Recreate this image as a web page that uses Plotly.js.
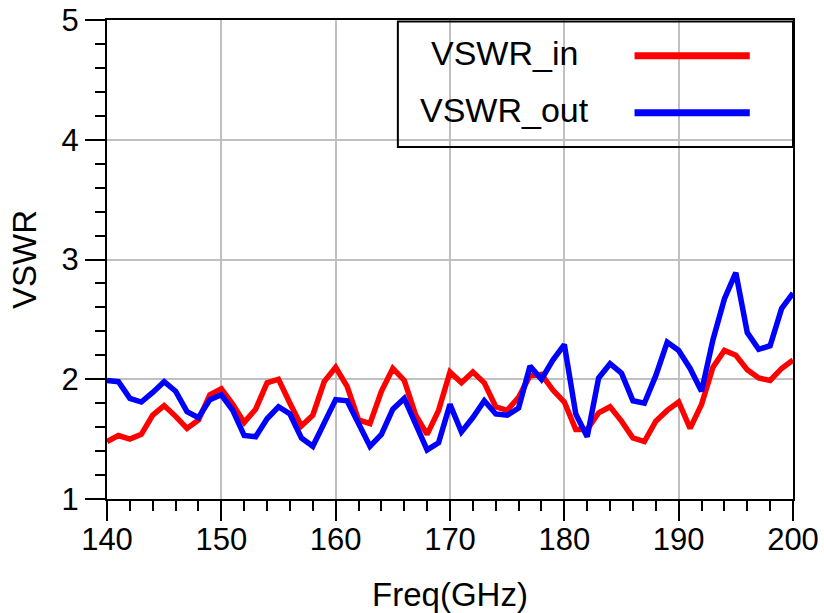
<!DOCTYPE html>
<html>
<head>
<meta charset="utf-8">
<script src="https://cdn.plot.ly/plotly-3.0.1.min.js"></script>
<style>html,body{margin:0;padding:0;background:#fff;}#chart{width:824px;height:613px;}</style>
</head>
<body>
<div id="chart"></div>
<script>
const freq = [140,141,142,143,144,145,146,147,148,149,150,151,152,153,154,155,156,157,158,159,160,161,162,163,164,165,166,167,168,169,170,171,172,173,174,175,176,177,178,179,180,181,182,183,184,185,186,187,188,189,190,191,192,193,194,195,196,197,198,199,200];
const vswrIn = [1.48,1.53,1.50,1.54,1.70,1.78,1.69,1.59,1.66,1.87,1.92,1.79,1.64,1.75,1.97,2.00,1.80,1.61,1.70,1.98,2.10,1.94,1.66,1.63,1.90,2.09,1.99,1.70,1.54,1.74,2.06,1.97,2.06,1.97,1.77,1.74,1.85,2.03,2.04,1.91,1.81,1.58,1.58,1.72,1.77,1.65,1.51,1.48,1.65,1.74,1.81,1.59,1.79,2.10,2.24,2.20,2.08,2.01,1.99,2.09,2.16];
const vswrOut = [1.99,1.98,1.84,1.81,1.89,1.98,1.90,1.73,1.68,1.83,1.87,1.74,1.53,1.52,1.67,1.77,1.71,1.51,1.44,1.63,1.83,1.82,1.63,1.44,1.54,1.75,1.84,1.63,1.41,1.47,1.79,1.56,1.68,1.82,1.71,1.70,1.76,2.11,2.00,2.16,2.29,1.71,1.52,2.01,2.13,2.05,1.82,1.80,2.03,2.31,2.24,2.09,1.90,2.33,2.67,2.89,2.39,2.25,2.28,2.59,2.72];
const seriesNames = ['VSWR_in','VSWR_out'];
const seriesColors = ['#ff0000','#0000ff'];

const font = 'Liberation Sans, Arial, sans-serif';
const traces = [
  {x: freq, y: vswrIn, name: seriesNames[0], type: 'scatter', mode: 'lines', line: {color: seriesColors[0], width: 5.5}},
  {x: freq, y: vswrOut, name: seriesNames[1], type: 'scatter', mode: 'lines', line: {color: seriesColors[1], width: 5.5}}
];
const axisCommon = {
  ticks: 'outside', ticklen: 20, tickwidth: 2, tickcolor: '#000',
  showgrid: true, gridcolor: '#c0c0c0', gridwidth: 2,
  showline: true, linecolor: '#000', linewidth: 2, mirror: true,
  zeroline: false,
  tickfont: {family: font, size: 31, color: '#000'}
};
const layout = {
  width: 824, height: 613,
  margin: {l: 107, r: 31, t: 20, b: 114},
  paper_bgcolor: '#fff', plot_bgcolor: '#fff',
  showlegend: false,
  font: {family: font, size: 31, color: '#000'},
  xaxis: Object.assign({}, axisCommon, {
    range: [140, 200], dtick: 10, tick0: 140,
    minor: {dtick: 2, ticks: 'outside', ticklen: 10, tickwidth: 2, tickcolor: '#000', showgrid: false},
    ticklabelstandoff: -8,
    title: {text: 'Freq(GHz)', font: {family: font, size: 33, color: '#000'}, standoff: 27}
  }),
  yaxis: Object.assign({}, axisCommon, {
    range: [1, 5], dtick: 1, tick0: 1,
    minor: {dtick: 0.2, ticks: 'outside', ticklen: 10, tickwidth: 2, tickcolor: '#000', showgrid: false},
    title: {text: 'VSWR', font: {family: font, size: 33, color: '#000'}, standoff: 15}
  }),
  shapes: [
    {type: 'rect', xref: 'paper', yref: 'paper', x0: 0.424, x1: 1, y0: 0.735, y1: 0.997, line: {color: '#000', width: 2}, fillcolor: 'rgba(0,0,0,0)'},
    {type: 'line', xref: 'paper', yref: 'paper', x0: 0.769, x1: 0.937, y0: 0.9255, y1: 0.9255, line: {color: seriesColors[0], width: 7}},
    {type: 'line', xref: 'paper', yref: 'paper', x0: 0.769, x1: 0.937, y0: 0.8065, y1: 0.8065, line: {color: seriesColors[1], width: 7}}
  ],
  annotations: [
    {xref: 'paper', yref: 'paper', x: 0.469, y: 0.932, xanchor: 'left', yanchor: 'middle', text: seriesNames[0], showarrow: false, font: {family: font, size: 34, color: '#000'}},
    {xref: 'paper', yref: 'paper', x: 0.453, y: 0.813, xanchor: 'left', yanchor: 'middle', text: seriesNames[1], showarrow: false, font: {family: font, size: 34, color: '#000'}}
  ]
};
Plotly.newPlot('chart', traces, layout, {displayModeBar: false, staticPlot: true});
</script>
</body>
</html>
